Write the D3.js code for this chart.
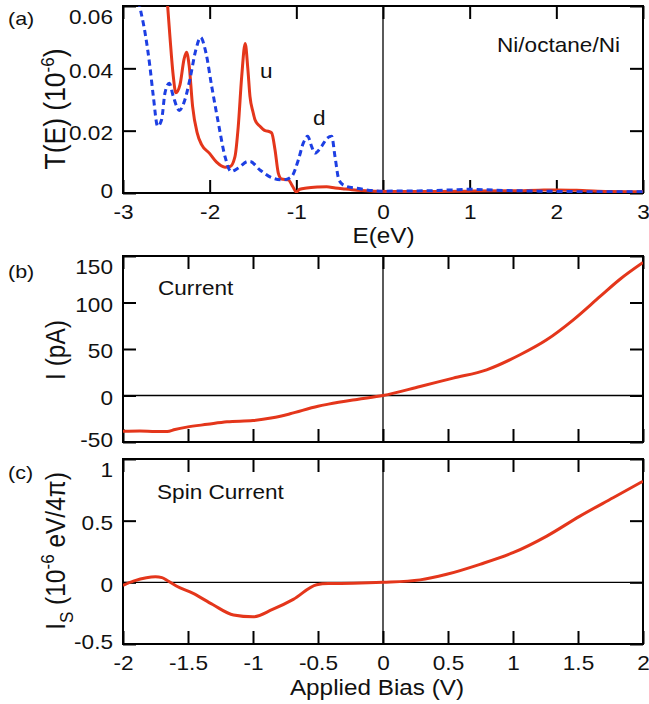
<!DOCTYPE html>
<html>
<head>
<meta charset="utf-8">
<script src="https://cdn.jsdelivr.net/npm/d3@7"></script>
<style>
  body { margin: 0; background: #fff; }
  text { font-family: "Liberation Sans", Arial, Helvetica, sans-serif; fill: #111; }
</style>
</head>
<body>
<svg id="chart" width="649" height="704"></svg>
<script>
// panel (a): transmission T(E), spin up (u) and spin down (d)
const energyUp = [-2.52,-2.485,-2.458,-2.42,-2.39,-2.342,-2.296,-2.268,-2.236,-2.197,-2.144,-2.093,-2.004,-1.92,-1.823,-1.765,-1.708,-1.67,-1.63,-1.59,-1.56,-1.535,-1.5,-1.477,-1.42,-1.36,-1.323,-1.285,-1.246,-1.208,-1.17,-1.092,-1.04,-1.0,-0.96,-0.88,-0.75,-0.65,-0.55,-0.45,-0.3,-0.1,0.2,0.6,1.0,1.5,1.8,2.0,2.3,2.6,3.0]
const transUp = [0.075,0.06,0.05,0.0375,0.0322,0.0348,0.0429,0.0452,0.0407,0.0278,0.0193,0.0155,0.0128,0.0099,0.0083,0.0085,0.0117,0.0214,0.0375,0.048,0.040,0.031,0.026,0.0235,0.0214,0.0200,0.0198,0.0193,0.0139,0.0064,0.0045,0.0042,0.0020,0.0003,0.0012,0.0016,0.0019,0.0020,0.0016,0.0013,0.0009,0.0006,0.0005,0.0005,0.0006,0.0007,0.0009,0.0010,0.0008,0.0005,0.0004]

const energyDown = [-2.86,-2.804,-2.746,-2.69,-2.65,-2.6,-2.555,-2.515,-2.466,-2.42,-2.35,-2.285,-2.228,-2.158,-2.105,-2.044,-1.977,-1.9,-1.823,-1.754,-1.67,-1.56,-1.535,-1.42,-1.266,-1.15,-1.054,-0.977,-0.92,-0.869,-0.823,-0.785,-0.71,-0.644,-0.592,-0.554,-0.508,-0.44,-0.3,-0.19,0,0.5,0.8,1.0,1.3,1.8,2.5,3.0]
const transDown = [0.068,0.0596,0.0515,0.0407,0.031,0.0214,0.0235,0.0322,0.0352,0.031,0.0265,0.030,0.0365,0.0461,0.0499,0.0451,0.0343,0.0225,0.0117,0.0069,0.0080,0.0101,0.0101,0.0074,0.0047,0.0042,0.0053,0.0106,0.016,0.0182,0.0149,0.0128,0.0149,0.0176,0.0182,0.0117,0.0042,0.0023,0.0015,0.0010,0.0006,0.0007,0.0010,0.0012,0.0009,0.0006,0.0004,0.0004]

// panel (b): current
const biasI = [-2,-1.87,-1.75,-1.66,-1.6,-1.51,-1.35,-1.2,-1.0,-0.85,-0.715,-0.5,-0.42,-0.2,0,0.285,0.54,0.797,1.054,1.259,1.464,1.67,1.823,2.0]
const current = [-38.5,-38.2,-38.8,-38.7,-36.5,-34,-31,-28.3,-27,-24,-19.7,-11.5,-9.3,-4.2,0,9.7,18.7,27.6,43.8,59.9,81.4,106.5,125,143]

// panel (c): spin current
const biasS = [-2,-1.92,-1.82,-1.75,-1.7,-1.66,-1.59,-1.46,-1.31,-1.15,-1.0,-0.85,-0.69,-0.51,-0.42,-0.23,0,0.285,0.49,0.746,1.0,1.26,1.515,1.77,2.0]
const spinCurrent = [-0.024,0.01,0.038,0.045,0.038,0.015,-0.03,-0.09,-0.18,-0.265,-0.28,-0.22,-0.138,-0.019,-0.01,-0.008,0,0.02,0.065,0.146,0.24,0.375,0.537,0.686,0.82]

// ticks
const ticksE = [-3,-2,-1,0,1,2,3]
const ticksT = [0,0.02,0.04,0.06]
const ticksBias = [-2,-1.5,-1,-0.5,0,0.5,1,1.5,2]
const ticksI = [-50,0,50,100,150]
const ticksIs = [-0.5,0,0.5,1]

const red = "#e4361b"
const blue = "#1d3fe3"
const left = 123, right = 643
const SX = 1.13   // the original figure is a bit wider than tall
const fmt = d => String(d)

const svg = d3.select("#chart")

const panels = [
  {id:"a", x:d3.scaleLinear().domain([-3,3]).range([left,right]),
   y:d3.scaleLinear().domain([0,0.06]).range([193,6]),
   xt:ticksE, yt:ticksT, xLabels:true},
  {id:"b", x:d3.scaleLinear().domain([-2,2]).range([left,right]),
   y:d3.scaleLinear().domain([-50,150]).range([442,256]),
   xt:ticksBias, yt:ticksI, xLabels:false},
  {id:"c", x:d3.scaleLinear().domain([-2,2]).range([left,right]),
   y:d3.scaleLinear().domain([-0.5,1]).range([644,459]),
   xt:ticksBias, yt:ticksIs, xLabels:true}
]

panels.forEach(p=>{
  const g = svg.append("g")
  const [y0,y1] = p.y.range()

  g.append("clipPath").attr("id","clip-"+p.id)
    .append("rect").attr("x",left).attr("y",y1).attr("width",right-left).attr("height",y0-y1)

  // zero lines
  g.append("line").attr("x1",p.x(0)).attr("x2",p.x(0)).attr("y1",y0).attr("y2",y1)
    .attr("stroke","#000").attr("stroke-width",1.3)
  if(p.id!=="a"){
    g.append("line").attr("x1",left).attr("x2",right).attr("y1",p.y(0)).attr("y2",p.y(0))
      .attr("stroke","#000").attr("stroke-width",1.3)
  }

  // axes, ticks pointing inward
  const bottom = d3.axisBottom(p.x).tickValues(p.xt).tickSize(-13).tickSizeOuter(0)
    .tickFormat(p.xLabels ? fmt : "")
  const top = d3.axisTop(p.x).tickValues(p.xt).tickSize(-13).tickSizeOuter(0).tickFormat("")
  const leftAx = d3.axisLeft(p.y).tickValues(p.yt).tickSize(-13).tickSizeOuter(0).tickFormat(fmt)
  const rightAx = d3.axisRight(p.y).tickValues(p.yt).tickSize(-13).tickSizeOuter(0).tickFormat("")

  const gb = g.append("g").attr("transform",`translate(0,${y0})`).call(bottom)
  const gt = g.append("g").attr("transform",`translate(0,${y1})`).call(top)
  const gl = g.append("g").attr("transform",`translate(${left},0)`).call(leftAx)
  const gr = g.append("g").attr("transform",`translate(${right},0)`).call(rightAx)
  ;[gb,gt,gl,gr].forEach(a=>{
    a.select(".domain").remove()
    a.selectAll(".tick line").attr("stroke","#000").attr("stroke-width",2)
    a.selectAll(".tick text").style("font-size","20px").attr("fill","#111")
  })

  gb.selectAll(".tick text").attr("x",0).attr("y",0).attr("dy",null)
    .attr("text-anchor","middle").attr("transform",`translate(0,26) scale(${SX},1)`)
  const n = p.yt.length
  gl.selectAll(".tick text").attr("x",0).attr("y",0).attr("dy",null)
    .attr("text-anchor","end")
    .attr("transform",(d,i)=>{
      const off = i===n-1 ? 10 : (i===0 ? -3 : 1.5)
      return `translate(-10,${off+7.2}) scale(${SX},1)`
    })

  g.append("rect").attr("x",left).attr("y",y1).attr("width",right-left).attr("height",y0-y1)
    .attr("fill","none").attr("stroke","#000").attr("stroke-width",2)
  p.g = g
})

const [pa,pb,pc] = panels

function drawLine(p, xs, ys, color, dash){
  const line = d3.line().x(i=>p.x(xs[i])).y(i=>p.y(ys[i])).curve(d3.curveMonotoneX)
  const path = p.g.append("path").datum(d3.range(xs.length))
    .attr("d",line).attr("fill","none").attr("stroke",color).attr("stroke-width",3)
    .attr("clip-path",`url(#clip-${p.id})`)
  if(dash) path.attr("stroke-dasharray",dash)
}

drawLine(pa, energyUp, transUp, red)
drawLine(pa, energyDown, transDown, blue, "6,4")
drawLine(pb, biasI, current, red)
drawLine(pc, biasS, spinCurrent, red)

// text, y is the baseline
function txt(x,y,s,size,anchor){
  return svg.append("text").attr("transform",`translate(${x},${y}) scale(${SX},1)`)
    .attr("text-anchor",anchor||"start").style("font-size",size+"px").text(s)
}
txt(8,25,"(a)",19)
txt(8,278,"(b)",19)
txt(8,479,"(c)",19)
txt(260,78,"u",20)
txt(313,125,"d",20)
txt(497,51.5,"Ni/octane/Ni",20)
txt(158,295,"Current",20)
txt(157,499,"Spin Current",20)
txt(383.5,243,"E(eV)",21.5,"middle")
txt(377,695,"Applied Bias (V)",21.5,"middle")

// rotated y labels, x is the baseline
function ylab(x,y,size){
  return svg.append("text").attr("transform",`translate(${x},${y}) scale(${SX},1) rotate(-90)`)
    .attr("text-anchor","middle").style("font-size",size+"px")
}
const yl1 = ylab(65,109,26.5)
yl1.append("tspan").text("T(E) (10")
yl1.append("tspan").attr("dy",-10).style("font-size","17px").text("-6")
yl1.append("tspan").attr("dy",10).text(")")

ylab(65,350,24.5).text("I (pA)")

const yl3 = ylab(65,551,24.5)
yl3.append("tspan").text("I")
yl3.append("tspan").attr("dy",7).style("font-size","17px").text("S")
yl3.append("tspan").attr("dy",-7).text(" (10")
yl3.append("tspan").attr("dy",-10).style("font-size","17px").text("-6")
yl3.append("tspan").attr("dy",10).text(" eV/4\u03c0)")
</script>
</body>
</html>
